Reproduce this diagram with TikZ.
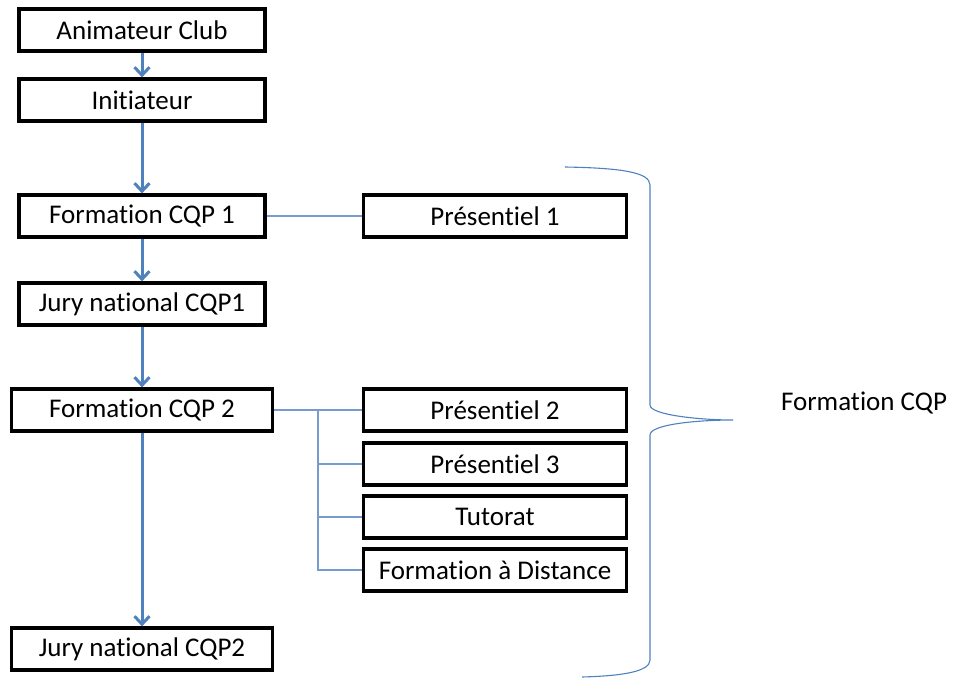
\documentclass[tikz,border=0pt]{standalone}
\usepackage{fontspec}
\setmainfont{Carlito}[Ligatures=NoCommon]
\usepackage{xcolor}
\usetikzlibrary{arrows.meta}

\definecolor{arrowblue}{RGB}{79,129,189}
\definecolor{linkblue}{RGB}{120,155,205}

\begin{document}
\begin{tikzpicture}[x=1pt,y=-1pt,
  box/.style={draw, line width=3.2pt, minimum height=42pt, inner sep=0pt,
    font=\fontsize{27}{30}\selectfont},
  stepbox/.style={box, minimum width=246pt},
  widebox/.style={box, minimum width=261pt},
  sidebox/.style={box, minimum width=263pt},
  flow/.style={arrowblue, line width=3pt, -{Straight Barb[length=8pt,width=15pt]}},
  link/.style={linkblue, line width=1.6pt},
  brace/.style={arrowblue, line width=1.1pt}]
\useasboundingbox (0,0) rectangle (954,679);
% main column
\node[stepbox] (anim) at (142,30) {Animateur Club};
\node[stepbox] (init) at (142,100) {Initiateur};
\node[stepbox] (cqp1) at (142,216) {Formation CQP 1};
\node[stepbox] (jury1) at (142,304) {Jury national CQP1};
\node[widebox] (cqp2) at (142,410) {Formation CQP 2};
\node[widebox] (jury2) at (142,649) {Jury national CQP2};
% side column
\node[sidebox] (pres1) at (495,216) {Présentiel 1};
\node[sidebox] (pres2) at (495,410) {Présentiel 2};
\node[sidebox] (pres3) at (495,464) {Présentiel 3};
\node[sidebox] (tuto) at (495,517) {Tutorat};
\node[sidebox] (dist) at (495,570) {Formation à Distance};
\node[font=\fontsize{27}{30}\selectfont] (label) at (864,403) {Formation CQP};
% arrows
\draw[flow] (anim) -- (init);
\draw[flow] (init) -- (cqp1);
\draw[flow] (cqp1) -- (jury1);
\draw[flow] (jury1) -- (cqp2);
\draw[flow] (cqp2) -- (jury2);
% links
\coordinate (bus) at (318,410);
\draw[link] (cqp1.east) -- (pres1.west);
\draw[link] (cqp2.east) -- (pres2.west);
\draw[link] (bus) |- (pres3.west);
\draw[link] (bus) |- (tuto.west);
\draw[link] (bus) |- (dist.west);
% brace
\draw[brace] (565,167) .. controls (620,168) and (650,172) .. (650,185)
  -- (650,405) .. controls (650,415) and (700,420) .. (733,420)
  .. controls (700,420) and (650,424) .. (650,435)
  -- (650,660) .. controls (650,672) and (620,676) .. (582,677);
\end{tikzpicture}
\end{document}
